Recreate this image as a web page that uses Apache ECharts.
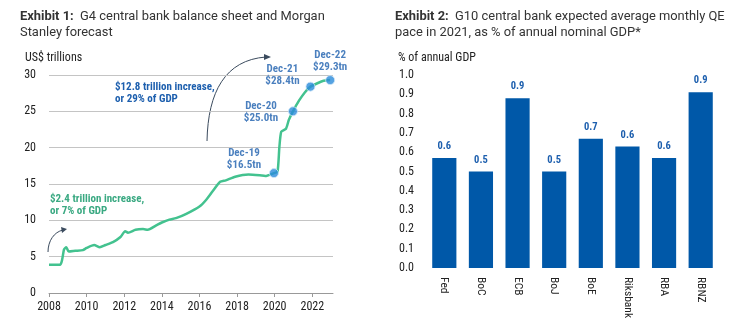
<!DOCTYPE html>
<html><head><meta charset="utf-8">
<script src="https://cdn.jsdelivr.net/npm/echarts@6/dist/echarts.min.js"></script>
<style>html,body{margin:0;padding:0;background:#fff}#c{width:736px;height:332px}</style>
</head><body><div id="c"></div>
<script>
// ---- Exhibit 1 data: G4 central bank balance sheet (US$ trillions)
const lineYears  = [2008.0, 2008.6, 2008.7, 2008.8, 2008.92, 2009.05, 2009.4, 2009.8, 2010.0, 2010.4, 2010.7, 2011.0, 2011.4, 2011.8, 2012.05, 2012.2, 2012.6, 2013.0, 2013.25, 2013.7, 2014.0, 2014.4, 2014.75, 2015.3, 2016.0, 2016.35, 2016.7, 2017.1, 2017.4, 2017.9, 2018.6, 2019.2, 2019.5, 2019.96, 2020.15, 2020.25, 2020.35, 2020.6, 2020.75, 2020.97, 2021.3, 2021.6, 2021.9, 2022.3, 2022.6, 2022.95];
const lineValues = [3.9, 3.9, 4.6, 6.0, 6.3, 5.7, 5.8, 5.9, 6.2, 6.6, 6.3, 6.6, 7.0, 7.7, 8.5, 8.3, 8.7, 8.8, 8.7, 9.3, 9.7, 10.1, 10.3, 10.9, 11.9, 12.8, 14.0, 15.3, 15.5, 16.0, 16.3, 16.2, 16.1, 16.5, 16.7, 20.1, 22.2, 22.6, 23.8, 25.0, 26.5, 27.6, 28.4, 28.9, 29.2, 29.3];
const markerYears  = [2019.96, 2020.97, 2021.9, 2022.95];
const markerValues = [16.5, 25.0, 28.4, 29.3];
const markerLabels = ['Dec-19', 'Dec-20', 'Dec-21', 'Dec-22'];
const yearTicks = [2008, 2010, 2012, 2014, 2016, 2018, 2020, 2022];

// ---- Exhibit 2 data: expected average monthly QE pace in 2021 (% of annual GDP)
const banks  = ['Fed', 'BoC', 'ECB', 'BoJ', 'BoE', 'Riksbank', 'RBA', 'RBNZ'];
const qePace = [0.57, 0.50, 0.88, 0.50, 0.67, 0.63, 0.57, 0.91];

const FF = '"Roboto Condensed","Liberation Sans Narrow","DejaVu Sans Condensed",Roboto,sans-serif';
const TF = 'Roboto,"Noto Sans",sans-serif';
const BLUE_TXT = '#1d5fae';
const GREEN = '#43c28f';
const TS = 12.9;

const chart = echarts.init(document.getElementById('c'), null, {renderer: 'canvas'});
const labelOffsets = [[-30, -14], [-32, 1], [-28, -11], [0, -19]];

chart.setOption({
  animation: false,
  backgroundColor: '#fff',
  title: [
    {left: 15, top: 4, text: '{b|Exhibit 1:}{n|  G4 central bank balance sheet and Morgan}\n{n|Stanley forecast}',
     textStyle: {rich: {b: {fontFamily: TF, fontWeight: 'bold', fontSize: TS, color: '#333', lineHeight: 16},
                        n: {fontFamily: TF, fontWeight: 'normal', fontSize: TS, color: '#333', lineHeight: 16}}}},
    {left: 390, top: 4, text: '{b|Exhibit 2:}{n|  G10 central bank expected average monthly QE}\n{n|pace in 2021, as % of annual nominal GDP*}',
     textStyle: {rich: {b: {fontFamily: TF, fontWeight: 'bold', fontSize: TS, color: '#333', lineHeight: 16},
                        n: {fontFamily: TF, fontWeight: 'normal', fontSize: TS, color: '#333', lineHeight: 16}}}}
  ],
  grid: [
    {left: 49, right: 403, top: 75, bottom: 39},
    {left: 426, right: 17, top: 75, bottom: 64}
  ],
  xAxis: [
    {type: 'value', gridIndex: 0, min: 2008, max: 2023.1,
     splitLine: {show: false},
     axisLine: {show: true, lineStyle: {color: '#999'}},
     axisTick: {show: true, customValues: yearTicks, length: 4, lineStyle: {color: '#999'}},
     axisLabel: {customValues: yearTicks, color: '#222', fontFamily: FF, fontSize: 12, margin: 8, formatter: v => String(v)}},
    {type: 'category', gridIndex: 1, data: banks,
     axisLine: {show: false}, axisTick: {show: false},
     axisLabel: {rotate: -90, color: '#222', fontFamily: FF, fontSize: 11.5, margin: 9}}
  ],
  yAxis: [
    {type: 'value', gridIndex: 0, min: 0, max: 30, interval: 5,
     axisLine: {show: false}, axisTick: {show: false},
     splitLine: {lineStyle: {color: '#c4c4c4'}},
     axisLabel: {color: '#222', fontFamily: FF, fontSize: 12, margin: 13}},
    {type: 'value', gridIndex: 1, min: 0, max: 1.0, interval: 0.1,
     axisLine: {show: false}, axisTick: {show: false}, splitLine: {show: false},
     axisLabel: {color: '#222', fontFamily: FF, fontSize: 12, margin: 12, formatter: v => v.toFixed(1)}}
  ],
  series: [
    {type: 'line', xAxisIndex: 0, yAxisIndex: 0, showSymbol: false, smooth: 0.2,
     data: lineYears.map((y, i) => [y, lineValues[i]]),
     lineStyle: {color: GREEN, width: 2.5}, z: 2},
    {type: 'scatter', xAxisIndex: 0, yAxisIndex: 0, symbolSize: 9,
     itemStyle: {color: '#2b8bdb', borderColor: '#cfe6f8', borderWidth: 1},
     data: markerYears.map((y, i) => ({
       value: [y, markerValues[i]],
       label: {offset: labelOffsets[i]}
     })),
     label: {show: true, position: 'inside', color: BLUE_TXT, fontFamily: FF, fontWeight: 'bold', fontSize: 11, lineHeight: 12,
       formatter: p => markerLabels[p.dataIndex] + '\n$' + markerValues[p.dataIndex].toFixed(1) + 'tn'}, z: 3},
    {type: 'bar', xAxisIndex: 1, yAxisIndex: 1, data: qePace, barCategoryGap: '34%',
     itemStyle: {color: '#0058a8'},
     label: {show: true, position: 'top', distance: 6, color: BLUE_TXT, fontFamily: FF, fontWeight: 'bold', fontSize: 10.5,
       formatter: p => p.value.toFixed(1)}}
  ],
  graphic: [
    {type: 'text', left: 25, top: 52, style: {text: 'US$ trillions', font: '12px ' + FF, fill: '#222'}},
    {type: 'text', left: 398, top: 52, style: {text: '% of annual GDP', font: '12px ' + FF, fill: '#222'}},
    {type: 'text', x: 115, y: 81, style: {text: '$12.8 trillion increase,\nor 29% of GDP', font: 'bold 11px ' + FF, fill: BLUE_TXT, lineHeight: 12}},
    {type: 'text', x: 50, y: 193, style: {text: '$2.4 trillion increase,\nor 7% of GDP', font: 'bold 11px ' + FF, fill: '#3aa982', lineHeight: 12}},
    {type: 'bezierCurve', shape: {x1: 207, y1: 141, cpx1: 208, cpy1: 92, cpx2: 225, cpy2: 60, x2: 266, y2: 57}, style: {stroke: '#3b4b5e', lineWidth: 1, fill: null}},
    {type: 'polygon', shape: {points: [[264, 54], [271, 57], [264, 60]]}, style: {fill: '#3b4b5e'}},
    {type: 'bezierCurve', shape: {x1: 48, y1: 252, cpx1: 48, cpy1: 241, cpx2: 54, cpy2: 232, x2: 63, y2: 230}, style: {stroke: '#3b4b5e', lineWidth: 1, fill: null}},
    {type: 'polygon', shape: {points: [[61, 227], [67, 229], [62, 233]]}, style: {fill: '#3b4b5e'}}
  ]
});
</script></body></html>
